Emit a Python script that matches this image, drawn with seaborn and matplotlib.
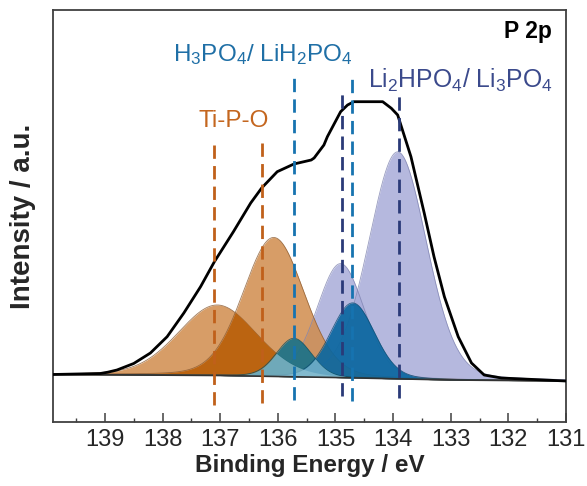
import numpy as np
import pandas as pd
import matplotlib
matplotlib.use("Agg")
import matplotlib.pyplot as plt
import seaborn as sns

# ---------------- data ----------------
# fitted components (centre / eV, height above background / a.u., FWHM / eV)
comp_names = ["TiPO_12", "TiPO_32", "H3PO4_12", "H3PO4_32", "Li3PO4_12", "Li3PO4_32"]
comp_center = [137.05, 136.07, 135.72, 134.70, 134.91, 133.92]
comp_height = [70.5, 139.0, 38.5, 75.0, 114.0, 227.0]
comp_fwhm = [1.60, 1.25, 0.72, 0.90, 0.97, 1.18]

# envelope (measured curve)
env_energy = [139.9, 139.08, 138.95, 138.79, 138.50, 138.21, 137.92, 137.63, 137.34,
              137.10, 136.77, 136.47, 136.28, 136.01, 135.72, 135.42, 135.37, 135.20,
              135.14, 134.91, 134.79, 134.68, 134.18, 134.03, 133.92, 133.69, 133.46,
              133.29, 133.11, 132.87, 132.64, 132.42, 132.12, 131.0]
env_intensity = [47.5, 48.5, 49.8, 52.0, 58.5, 69.0, 85.3, 109.0, 135.3,
                 160.3, 190.3, 219.0, 234.0, 250.3, 258.0, 262.0, 264.0, 277.0,
                 285.3, 310.3, 317.0, 320.3, 320.3, 313.7, 307.0, 265.3, 209.0,
                 165.3, 125.3, 85.3, 59.0, 47.0, 44.0, 41.0]

# background
bg_energy = [139.9, 137.0, 135.0, 133.0, 131.0]
bg_intensity = [47.5, 46.5, 44.5, 42.0, 41.0]

# reference positions (dashed markers)
marker_energy = [137.10, 136.28, 135.72, 134.71, 134.89, 133.90]
marker_top = [279.0, 279.0, 345.3, 345.3, 329.0, 327.0]
marker_bottom = [17.0, 19.0, 22.0, 21.3, 26.0, 24.0]
marker_group = ["TiPO", "TiPO", "H3PO4", "H3PO4", "Li3PO4", "Li3PO4"]

x_ticks = [139, 138, 137, 136, 135, 134, 133, 132, 131]

# ---------------- style ----------------
sns.set_theme(style="white")
plt.rcParams["font.family"] = ["Liberation Sans", "DejaVu Sans"]
plt.rcParams["mathtext.fontset"] = "custom"
plt.rcParams["mathtext.rm"] = "Liberation Sans"
plt.rcParams["mathtext.it"] = "Liberation Sans:italic"
plt.rcParams["mathtext.bf"] = "Liberation Sans:bold"

fig = plt.figure(figsize=(5.87, 4.86), dpi=100)
ax = fig.add_axes([53 / 587, 1 - 422 / 486, 513 / 587, 412 / 486])

E = np.linspace(139.9, 131.0, 1500)
bg = np.interp(E, bg_energy[::-1], bg_intensity[::-1])


def gl(c, h, w, m=0.15):
    d2 = 4 * (E - c) ** 2 / w ** 2
    return h * ((1 - m) * np.exp(-np.log(2) * d2) + m / (1 + d2))


peaks = {n: gl(c, h, w) for n, c, h, w in zip(comp_names, comp_center, comp_height, comp_fwhm)}

styles = {
    "Li3PO4_32": ("#a8acd9", 0.85, "#7f83b0"),
    "Li3PO4_12": ("#a8acd9", 0.85, "#7f83b0"),
    "TiPO_12": ("#d08c4c", 0.85, "#8a5a30"),
    "TiPO_32": ("#d08c4c", 0.85, "#8a5a30"),
    "H3PO4_12": ("#12708a", 0.88, "#0d4f60"),
    "H3PO4_32": ("#0b67a0", 0.92, "#0b4a70"),
}
order = ["Li3PO4_32", "Li3PO4_12", "TiPO_12", "TiPO_32"]
for n in order:
    col, a, ec = styles[n]
    ax.fill_between(E, bg, bg + peaks[n], color=col, alpha=a, lw=0, zorder=2)
    ax.plot(E, bg + peaks[n], color=ec, lw=0.6, alpha=0.8, zorder=2.1)

# Ti-P-O doublet overlap
ax.fill_between(E, bg, bg + np.minimum(peaks["TiPO_12"], peaks["TiPO_32"]),
                color="#bb6411", lw=0, zorder=2.2)

for n in ["H3PO4_12", "H3PO4_32"]:
    col, a, ec = styles[n]
    ax.fill_between(E, bg, bg + peaks[n], color=col, alpha=a, lw=0, zorder=3)
    ax.plot(E, bg + peaks[n], color=ec, lw=0.6, alpha=0.8, zorder=3.1)

ax.fill_between(E, bg, bg + np.minimum(peaks["H3PO4_12"], peaks["TiPO_12"]),
                color="#8ec3d4", alpha=0.7, lw=0, zorder=3.2)
ax.fill_between(E, bg, bg + np.minimum(peaks["H3PO4_12"], peaks["H3PO4_32"]),
                color="#8ec3d4", alpha=0.7, lw=0, zorder=3.2)

ax.plot(bg_energy, bg_intensity, color="#333333", lw=1.2, zorder=3.5)

env = pd.DataFrame({"energy": env_energy, "intensity": env_intensity})
sns.lineplot(data=env, x="energy", y="intensity", sort=False, color="black",
             lw=2.0, ax=ax, zorder=5)
for ln in ax.lines[-1:]:
    ln.set_solid_joinstyle("round")

marker_colors = {"TiPO": "#c0601a", "H3PO4": "#1673b0", "Li3PO4": "#2a3a78"}
for e, t, b, g in zip(marker_energy, marker_top, marker_bottom, marker_group):
    ax.plot([e, e], [b, t], color=marker_colors[g], lw=2.0,
            linestyle=(0, (4.8, 2.6)), zorder=6)

# labels
ax.text(0.353, 0.73, "Ti-P-O", transform=ax.transAxes, color="#c4661f",
        fontsize=17.5, ha="center", va="center")
ax.text(0.409, 0.893, r"H$_3$PO$_4$/ LiH$_2$PO$_4$", transform=ax.transAxes,
        color="#1f6fa6", fontsize=17.5, ha="center", va="center")
ax.text(0.795, 0.83, r"Li$_2$HPO$_4$/ Li$_3$PO$_4$", transform=ax.transAxes,
        color="#3b4a8c", fontsize=17.8, ha="center", va="center")
ax.text(0.972, 0.948, "P 2p", transform=ax.transAxes, color="black",
        fontsize=16.5, fontweight="bold", ha="right", va="center")

ax.set_xlim(139.9, 131.0)
ax.set_ylim(0, 412)
ax.set_xticks(x_ticks)
ax.set_xticks(np.arange(131.5, 140, 1.0), minor=True)
ax.set_yticks([])
ax.tick_params(axis="x", which="major", direction="in", length=6.5, width=1.1,
               color="#404040", labelsize=17, pad=5, bottom=True, top=False)
ax.tick_params(axis="x", which="minor", direction="in", length=3.2, width=1.0,
               color="#404040", bottom=True, top=False)
for s in ax.spines.values():
    s.set_color("#404040")
    s.set_linewidth(1.3)

ax.set_xlabel("Binding Energy / eV", fontsize=17.5, fontweight="bold", labelpad=2)
ax.set_ylabel("Intensity / a.u.", fontsize=20, fontweight="bold", labelpad=12)

fig.savefig("out.png", dpi=100)
